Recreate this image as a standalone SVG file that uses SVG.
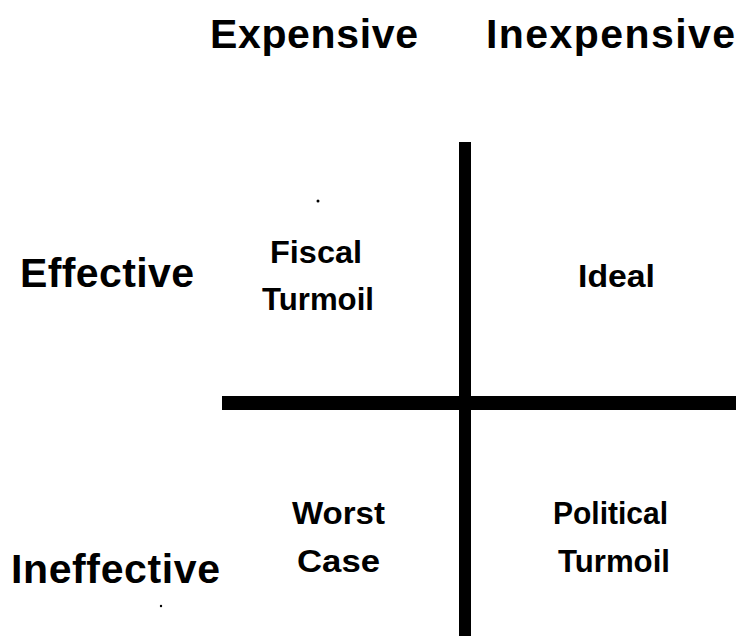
<svg xmlns="http://www.w3.org/2000/svg" width="739" height="636" viewBox="0 0 739 636">
<style>
text{font-family:"Liberation Sans",Arial,Helvetica,sans-serif;font-weight:bold;fill:#000}
.h{font-size:41px}
.q{font-size:31px}
.ax{stroke:#000;stroke-linecap:butt;fill:none}
</style>
<rect width="739" height="636" fill="#fff"/>
<g id="headers">
<text id="expensive" class="h" x="210" y="48" textLength="208" lengthAdjust="spacing">Expensive</text>
<text id="inexpensive" class="h" x="486" y="48" textLength="249" lengthAdjust="spacing">Inexpensive</text>
<text id="effective" class="h" x="20" y="287" textLength="174" lengthAdjust="spacing">Effective</text>
<text id="ineffective" class="h" x="11" y="583" textLength="209" lengthAdjust="spacing">Ineffective</text>
</g>
<g id="connectors">
<line class="ax" x1="465" y1="142" x2="465" y2="636" stroke-width="12"/>
<line class="ax" x1="222" y1="403" x2="736" y2="403" stroke-width="14"/>
</g>
<g id="fiscal-turmoil">
<text class="q" x="270" y="263" textLength="92" lengthAdjust="spacingAndGlyphs">Fiscal</text>
<text class="q" x="262" y="310" textLength="112" lengthAdjust="spacingAndGlyphs">Turmoil</text>
</g>
<g id="ideal">
<text class="q" x="578" y="287" textLength="77" lengthAdjust="spacingAndGlyphs">Ideal</text>
</g>
<g id="worst-case">
<text class="q" x="292" y="524" textLength="93" lengthAdjust="spacingAndGlyphs">Worst</text>
<text class="q" x="297" y="572" textLength="83" lengthAdjust="spacingAndGlyphs">Case</text>
</g>
<g id="political-turmoil">
<text class="q" x="553" y="524" textLength="115" lengthAdjust="spacingAndGlyphs">Political</text>
<text class="q" x="558" y="572" textLength="112" lengthAdjust="spacingAndGlyphs">Turmoil</text>
</g>
<circle cx="318" cy="201" r="1.5" fill="#000"/>
<circle cx="161" cy="606" r="1.2" fill="#000"/>
</svg>
